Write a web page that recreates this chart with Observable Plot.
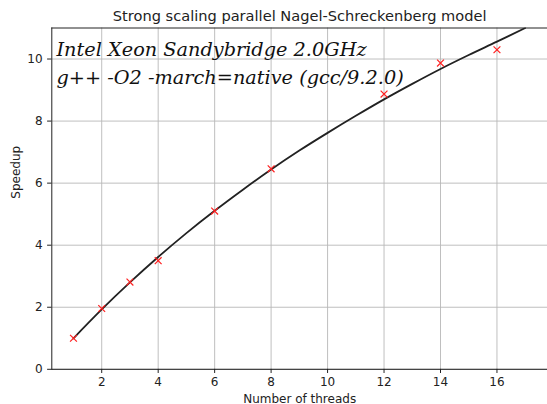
<!DOCTYPE html>
<html>
<head>
<meta charset="utf-8">
<script src="https://cdn.jsdelivr.net/npm/d3@7"></script>
<script src="https://cdn.jsdelivr.net/npm/@observablehq/plot@0.6"></script>
<style>
  html, body { margin: 0; padding: 0; background: #fff; }
</style>
</head>
<body>
<div id="chart"></div>
<script>
// Measured speedups (red crosses)
const threads = [1, 2, 3, 4, 6, 8, 12, 14, 16];
const speedup = [1.00, 1.96, 2.81, 3.50, 5.10, 6.46, 8.87, 9.87, 10.30];

// Fitted curve (black line)
const curveThreads = [1, 2, 3, 4, 5, 6, 7, 8, 9, 10, 11, 12, 13, 14, 15, 16, 17];
const curveSpeedup = [1.00, 1.93, 2.80, 3.62, 4.39, 5.11, 5.79, 6.44, 7.05, 7.62, 8.17, 8.70, 9.20, 9.68, 10.13, 10.56, 11.00];

const xTicks = [2, 4, 6, 8, 10, 12, 14, 16];
const yTicks = [0, 2, 4, 6, 8, 10];

const title = "Strong scaling parallel Nagel-Schreckenberg model";
const xLabel = "Number of threads";
const yLabel = "Speedup";
const note1 = "Intel Xeon Sandybridge 2.0GHz";
const note2 = "g++ -O2 -march=native (gcc/9.2.0)";

const points = threads.map((t, i) => ({t, s: speedup[i]}));
const curve = curveThreads.map((t, i) => ({t, s: curveSpeedup[i]}));

const chart = Plot.plot({
  width: 547,
  height: 404,
  marginLeft: 51.3,
  marginRight: 0,
  marginTop: 27.5,
  marginBottom: 35.2,
  style: {fontFamily: "DejaVu Sans", fontSize: "12px", background: "#fff", color: "#222"},
  x: {domain: [0.232, 17.79]},
  y: {domain: [0, 11]},
  marks: [
    Plot.ruleX(xTicks, {stroke: "#b8b8b8", strokeWidth: 0.9}),
    Plot.ruleY(yTicks, {stroke: "#b8b8b8", strokeWidth: 0.9}),
    Plot.frame({anchor: "left", stroke: "#222", strokeWidth: 1}),
    Plot.frame({anchor: "bottom", stroke: "#222", strokeWidth: 1}),
    Plot.frame({anchor: "top", stroke: "#222", strokeWidth: 1}),
    Plot.axisX({ticks: xTicks, tickSize: 4.2, tickPadding: 4.3, label: null, fontSize: 12, stroke: "#222"}),
    Plot.axisY({ticks: yTicks, tickSize: 4.2, tickPadding: 5, label: null, fontSize: 12, stroke: "#222"}),
    Plot.line(curve, {x: "t", y: "s", stroke: "#222", strokeWidth: 1.8, curve: "catmull-rom", clip: true}),
    Plot.dot(points, {x: "t", y: "s", symbol: "times", r: 3.2, stroke: "#ff2020", strokeWidth: 1.2}),
    Plot.text([note1], {frameAnchor: "top-left", dx: 4.7, dy: 27.5, lineAnchor: "bottom", textAnchor: "start",
      fontFamily: "DejaVu Serif", fontStyle: "italic", fontSize: 19.3, fill: "#111"}),
    Plot.text([note2], {frameAnchor: "top-left", dx: 4.7, dy: 55.8, lineAnchor: "bottom", textAnchor: "start",
      fontFamily: "DejaVu Serif", fontStyle: "italic", fontSize: 19.3, fill: "#111"}),
    Plot.text([title], {frameAnchor: "top", dy: -6.8, lineAnchor: "bottom", fontSize: 14.6, fill: "#222"}),
    Plot.text([xLabel], {frameAnchor: "bottom", dy: 33.2, lineAnchor: "bottom", fontSize: 12, fill: "#222"}),
    Plot.text([yLabel], {frameAnchor: "left", dx: -31.8, rotate: -90, lineAnchor: "bottom", fontSize: 12, fill: "#222"})
  ]
});
document.getElementById("chart").appendChild(chart);
</script>
</body>
</html>
